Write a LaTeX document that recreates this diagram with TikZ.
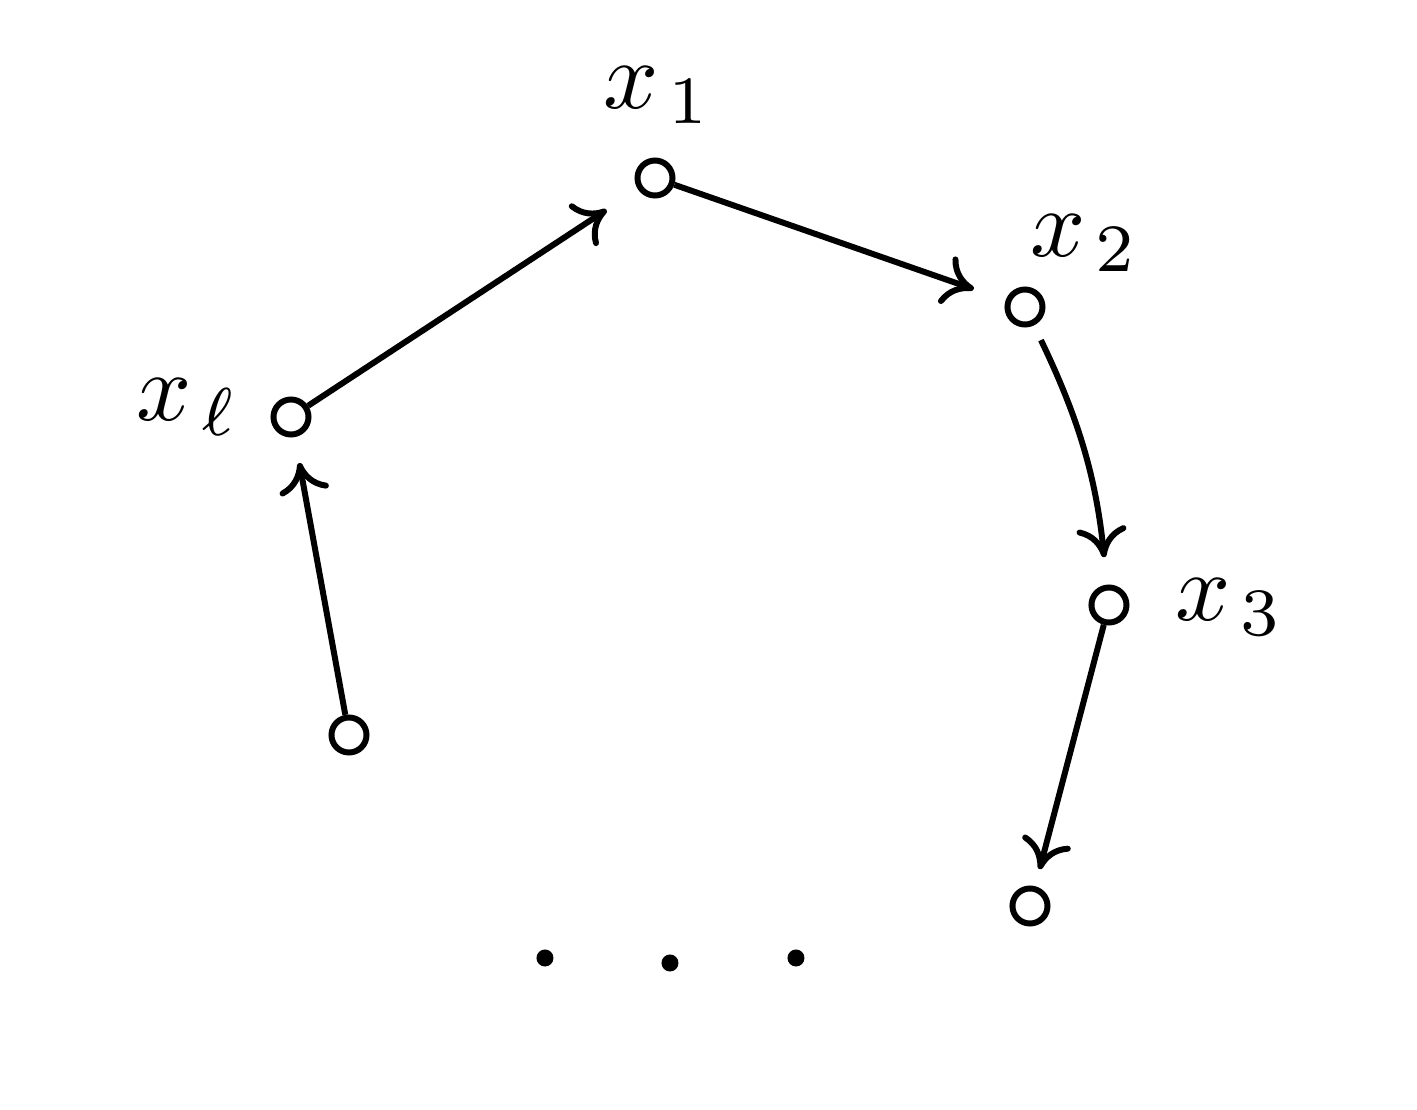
\documentclass[tikz,border=0pt]{standalone}
\usetikzlibrary{arrows.meta}
\begin{document}
\begin{tikzpicture}[x=0.004cm,y=-0.004cm,
  vtx/.style={circle,draw,line width=0.68pt,minimum size=0.14cm,inner sep=0pt},
  arr/.style={line width=0.68pt,-{Computer Modern Rightarrow[length=0.12cm,width=0.2cm,line width=0.68pt]}},
  lab/.style={inner sep=0pt,scale=1.1},
  dotn/.style={circle,fill,minimum size=0.068cm,inner sep=0pt}]
\useasboundingbox (0,0) rectangle (1417,1110);
\node[vtx] (v1) at (655,178) {};
\node[vtx] (v2) at (1025,307) {};
\node[vtx] (v3) at (1109,605) {};
\node[vtx] (v4) at (1030,906) {};
\node[vtx] (vl) at (291,417) {};
\node[vtx] (v0) at (349,735) {};
\node[lab] (l1) at (658,95) {$x_{\kern1pt 1}$};
\node[lab] (l2) at (1085,243) {$x_{\kern1pt 2}$};
\node[lab] (l3) at (1230,607) {$x_{\kern1pt 3}$};
\node[lab] (ll) at (188,407) {$x_{\kern1pt \ell}$};
\node[dotn] (d1) at (545,958) {};
\node[dotn] (d2) at (670,963) {};
\node[dotn] (d3) at (796,958) {};
\draw[arr,shorten >=0.15cm] (vl) -- (v1);
\draw[arr,shorten >=0.135cm] (v1) -- (v2);
\draw[arr,shorten <=0.065cm,shorten >=0.11cm] (v2) to[bend left=10] (v3);
\draw[arr,shorten >=0.07cm] (v3) -- (v4);
\draw[arr,shorten >=0.105cm] (v0) -- (vl);
\end{tikzpicture}
\end{document}
